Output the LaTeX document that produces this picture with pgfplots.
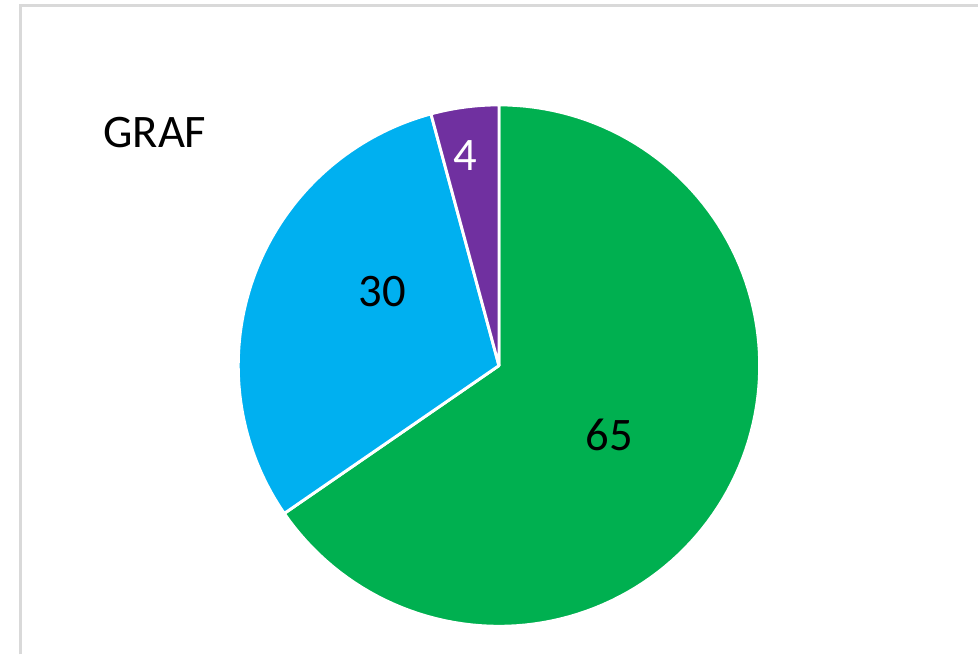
\documentclass[border=0pt]{standalone}
\usepackage{fontspec}
\setmainfont{Carlito}
\usepackage{pgfplots}
\pgfplotsset{compat=1.18}
\definecolor{pgreen}{HTML}{00B050}
\definecolor{pblue}{HTML}{00B0F0}
\definecolor{ppurple}{HTML}{7030A0}
\definecolor{frame}{HTML}{D9D9D9}
\begin{document}
\begin{tikzpicture}
% slice values (shares; labels show them rounded)
\def\vA{65.4}\def\vB{30.4}\def\vC{4.2}
\pgfmathsetmacro\tot{\vA+\vB+\vC}
\pgfmathsetmacro\aA{90-360*(\vA/\tot)}
\pgfmathsetmacro\aB{90+360*(\vC/\tot)}
\pgfmathsetmacro\aBend{\aA+360}
\begin{axis}[
  scale only axis, width=734.25pt, height=491.25pt,
  xmin=0, xmax=979, ymin=0, ymax=655,
  axis line style={draw=none}, ticks=none, clip=false,
  font=\fontsize{35}{38}\selectfont,
]
\draw[frame, line width=1.6pt] (axis cs:20.5,0) -- (axis cs:20.5,649.5) -- (axis cs:979,649.5);
\addplot[fill=pgreen, draw=white, line width=2.2pt, line join=round, domain=\aA:90, samples=120, variable=\t]
  ({499.5+261*cos(\t)},{289+261*sin(\t)}) -- (axis cs:499.5,289) -- cycle;
\addplot[fill=pblue, draw=white, line width=2.2pt, line join=round, domain=\aB:\aBend, samples=80, variable=\t]
  ({499.5+261*cos(\t)},{289+261*sin(\t)}) -- (axis cs:499.5,289) -- cycle;
\addplot[fill=ppurple, draw=white, line width=2.2pt, line join=round, domain=90:\aB, samples=20, variable=\t]
  ({499.5+261*cos(\t)},{289+261*sin(\t)}) -- (axis cs:499.5,289) -- cycle;
\node at (axis cs:610,220) {65};
\node at (axis cs:383,363) {30};
\node[white] at (axis cs:466,499) {4};
\node at (axis cs:155,522) {GRAF};
\end{axis}
\end{tikzpicture}
\end{document}
